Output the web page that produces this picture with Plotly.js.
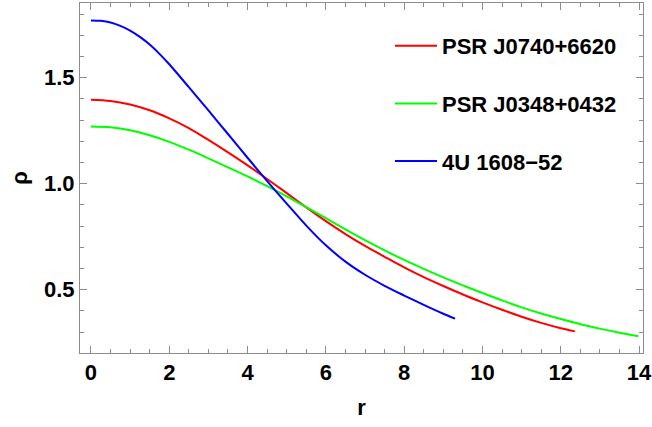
<!DOCTYPE html>
<html>
<head>
<meta charset="utf-8">
<script src="https://cdn.plot.ly/plotly-3.0.1.min.js"></script>
<style>html,body{margin:0;padding:0;background:#fff;}#chart{width:652px;height:427px;}</style>
</head>
<body>
<div id="chart"></div>
<script>
// Series names
const seriesNames = ["PSR J0740+6620", "PSR J0348+0432", "4U 1608\u221252"];
const seriesColors = ["#ff0000", "#00ff00", "#0000ff"];

// PSR J0740+6620 (red)
const rRed   = [0, 0.5, 1, 1.5, 2, 2.5, 3, 3.5, 4, 4.5, 5, 5.5, 6, 6.5, 7, 7.5, 8, 8.5, 9, 9.5, 10, 10.5, 11, 11.5, 12, 12.36];
const rhoRed = [1.396, 1.390, 1.373, 1.346, 1.308, 1.262, 1.206, 1.147, 1.086, 1.022, 0.955, 0.888, 0.823, 0.762, 0.706, 0.655, 0.605, 0.559, 0.517, 0.477, 0.440, 0.405, 0.372, 0.343, 0.318, 0.303];

// PSR J0348+0432 (green)
const rGreen   = [0, 0.5, 1, 1.5, 2, 2.5, 3, 3.5, 4, 4.5, 5, 5.5, 6, 6.5, 7, 7.5, 8, 8.5, 9, 9.5, 10, 10.5, 11, 11.5, 12, 12.5, 13, 13.5, 13.98];
const rhoGreen = [1.270, 1.266, 1.252, 1.228, 1.197, 1.160, 1.119, 1.077, 1.034, 0.988, 0.940, 0.889, 0.837, 0.784, 0.733, 0.685, 0.640, 0.598, 0.558, 0.520, 0.484, 0.449, 0.416, 0.387, 0.361, 0.337, 0.316, 0.297, 0.280];

// 4U 1608-52 (blue)
const rBlue   = [0, 0.25, 0.5, 0.75, 1, 1.25, 1.5, 1.75, 2, 2.5, 3, 3.5, 4, 4.5, 5, 5.5, 6, 6.5, 7, 7.5, 8, 8.5, 9, 9.3];
const rhoBlue = [1.770, 1.768, 1.760, 1.744, 1.722, 1.692, 1.656, 1.612, 1.563, 1.455, 1.345, 1.234, 1.122, 1.012, 0.906, 0.802, 0.709, 0.632, 0.570, 0.518, 0.472, 0.428, 0.386, 0.363];

// Axis ticks
const xTicks = [0, 2, 4, 6, 8, 10, 12, 14];
const yTicks = [0.5, 1.0, 1.5];
const yTickText = ["0.5", "1.0", "1.5"];

const xs = [rRed, rGreen, rBlue];
const ys = [rhoRed, rhoGreen, rhoBlue];

const FONT = "Liberation Sans, Arial, sans-serif";
const frameCol = "#8c8c8c";

const traces = seriesNames.map((name, i) => ({
  type: "scatter",
  mode: "lines",
  x: xs[i],
  y: ys[i],
  name: name,
  legendgroup: "g" + i,
  line: {color: seriesColors[i], width: 2, shape: "spline", smoothing: 0.9}
}));

const tickFont = {family: FONT, size: 22, color: "#000", weight: "bold"};

const layout = {
  width: 652,
  height: 427,
  margin: {l: 80, r: 9, t: 3, b: 74},
  paper_bgcolor: "#fff",
  plot_bgcolor: "#fff",
  showlegend: true,
  legend: {
    x: 0.5506, y: 0.937, xanchor: "left", yanchor: "top",
    bgcolor: "rgba(0,0,0,0)",
    font: {family: FONT, size: 22, color: "#000", weight: "bold"},
    traceorder: "grouped",
    tracegroupgap: 26,
    itemwidth: 42
  },
  xaxis: {
    range: [-0.28, 14.1],
    tickvals: xTicks,
    ticktext: xTicks.map(String),
    ticks: "inside",
    ticklen: 7,
    tickwidth: 1,
    tickcolor: frameCol,
    showline: true,
    linecolor: frameCol,
    linewidth: 1,
    mirror: "allticks",
    showgrid: false,
    zeroline: false,
    ticklabeloverflow: "allow",
    tickfont: tickFont,
    minor: {dtick: 0.5, tick0: 0, ticks: "inside", ticklen: 4, tickcolor: frameCol, showgrid: false},
    title: {text: "r", font: {family: FONT, size: 22, color: "#000", weight: "bold"}, standoff: 15}
  },
  yaxis: {
    range: [0.201, 1.852],
    tickvals: yTicks,
    ticktext: yTickText,
    ticks: "inside",
    ticklen: 7,
    tickwidth: 1,
    tickcolor: frameCol,
    showline: true,
    linecolor: frameCol,
    linewidth: 1,
    mirror: "allticks",
    showgrid: false,
    zeroline: false,
    tickfont: tickFont,
    minor: {dtick: 0.1, tick0: 0, ticks: "inside", ticklen: 4, tickcolor: frameCol, showgrid: false},
    title: {text: "\u03c1", font: {family: FONT, size: 22, color: "#000", weight: "bold"}, standoff: 10}
  }
};

Plotly.newPlot("chart", traces, layout, {displayModeBar: false, staticPlot: true});
</script>
</body>
</html>
